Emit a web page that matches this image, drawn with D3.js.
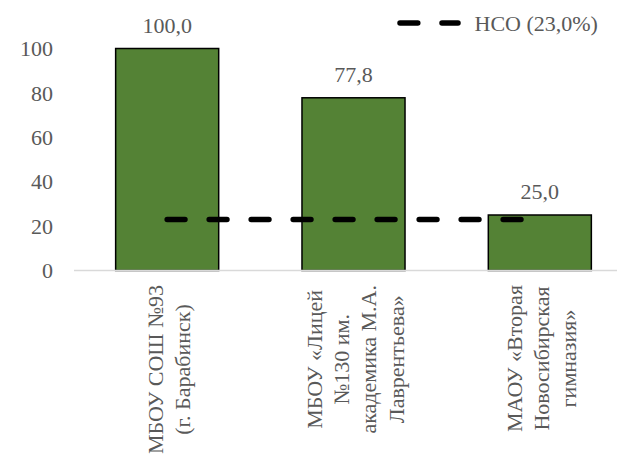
<!DOCTYPE html>
<html>
<head>
<meta charset="utf-8">
<script src="https://cdn.jsdelivr.net/npm/d3@7"></script>
<style>
  html, body { margin: 0; padding: 0; background: #ffffff; }
  svg { display: block; }
</style>
</head>
<body>
<svg id="chart" width="617" height="472"></svg>
<script>
// ---- data ----
const categories = [
  "МБОУ СОШ №93 (г. Барабинск)",
  "МБОУ «Лицей №130 им. академика М.А. Лаврентьева»",
  "МАОУ «Вторая Новосибирская гимназия»"
];
const categoryLines = [
  ["МБОУ СОШ №93", "(г. Барабинск)"],
  ["МБОУ «Лицей", "№130 им.", "академика М.А.", "Лаврентьева»"],
  ["МАОУ «Вторая", "Новосибирская", "гимназия»"]
];
const values = [100.0, 77.8, 25.0];
const nsoValues = [23.0, 23.0, 23.0];
const nsoLabel = "НСО (23,0%)";
const yTicks = [0, 20, 40, 60, 80, 100];

// ---- layout ----
const W = 617, H = 472;
const FONT = '"Liberation Serif", monospace';
const TXT = "#595959";
const fontSize = 22;
const svg = d3.select("#chart");
const fmt = v => v.toFixed(1).replace(".", ",");

const x = d3.scaleBand()
  .domain(categories)
  .range([74, 633])
  .paddingInner(0.447)
  .paddingOuter(0.2235);

const y = d3.scaleLinear().domain([0, 100]).range([270.5, 48.5]);

function styleText(sel) {
  return sel.attr("font-family", FONT).attr("font-size", fontSize).attr("fill", TXT);
}

// y tick labels
svg.append("g").selectAll("text")
  .data(yTicks)
  .join("text")
  .call(styleText)
  .attr("x", 53)
  .attr("y", d => y(d))
  .attr("dy", "0.35em")
  .attr("text-anchor", "end")
  .text(d => d);

// bars
svg.append("g").selectAll("rect")
  .data(values)
  .join("rect")
  .attr("x", (d, i) => x(categories[i]))
  .attr("y", d => y(d))
  .attr("width", x.bandwidth())
  .attr("height", d => y(0) - y(d))
  .attr("fill", "#548235")
  .attr("stroke", "#000000")
  .attr("stroke-width", 1.5);

// category axis line
svg.append("line")
  .attr("x1", x.range()[0]).attr("x2", W)
  .attr("y1", y(0)).attr("y2", y(0))
  .attr("stroke", "#d9d9d9").attr("stroke-width", 1.5);

// value labels
svg.append("g").selectAll("text")
  .data(values)
  .join("text")
  .call(styleText)
  .attr("x", (d, i) => x(categories[i]) + x.bandwidth() / 2)
  .attr("y", d => y(d) - 16)
  .attr("text-anchor", "middle")
  .text(d => fmt(d));

// NSO dashed line
const line = d3.line()
  .x((d, i) => x(categories[i]) + x.bandwidth() / 2)
  .y(d => y(d));
svg.append("path")
  .datum(nsoValues)
  .attr("d", line)
  .attr("fill", "none")
  .attr("stroke", "#000000")
  .attr("stroke-width", 5.5)
  .attr("stroke-linecap", "round")
  .attr("stroke-dasharray", "17.8,24.2");

// category labels (rotated)
const lineH = 27.3;
const topY = 285;
categoryLines.forEach((lines, i) => {
  const cx = x(categories[i]) + x.bandwidth() / 2 + 1.5;
  const g = svg.append("g");
  const texts = g.selectAll("text")
    .data(lines)
    .join("text")
    .call(styleText)
    .attr("text-anchor", "middle")
    .text(d => d);
  let maxLen = 0;
  texts.each(function () { maxLen = Math.max(maxLen, this.getComputedTextLength()); });
  const n = lines.length;
  texts.attr("transform", (d, j) => {
    const gx = cx + (j - (n - 1) / 2) * lineH;
    const gyc = topY + maxLen / 2;
    return `translate(${gx},${gyc}) rotate(-90)`;
  }).attr("dy", "0.35em");
});

// legend
const lg = svg.append("g");
lg.append("line")
  .attr("x1", 400).attr("x2", 458)
  .attr("y1", 23).attr("y2", 23)
  .attr("stroke", "#000000")
  .attr("stroke-width", 5.5)
  .attr("stroke-linecap", "round")
  .attr("stroke-dasharray", "17.8,24.2");
lg.append("text")
  .call(styleText)
  .attr("x", 474.5).attr("y", 23)
  .attr("dy", "0.35em")
  .text(nsoLabel);
</script>
</body>
</html>
